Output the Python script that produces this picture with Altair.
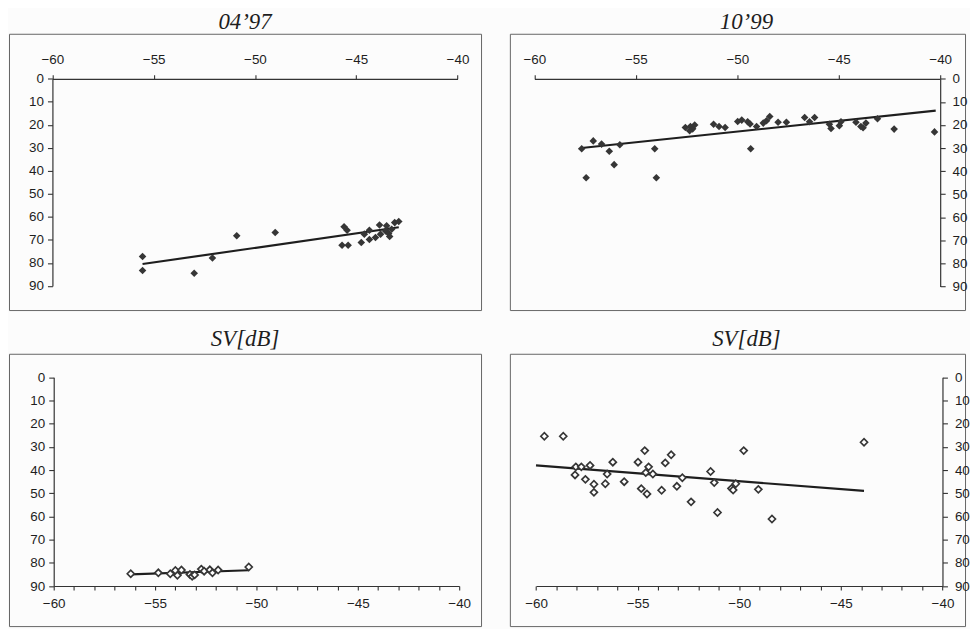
import altair as alt
import pandas as pd

# ---- data ----
# Panel 1: 04'97 (filled diamonds)
x1 = [-55.55, -55.55, -53.0, -52.1, -50.9, -49.0, -45.6, -45.45, -45.7, -45.4, -44.75, -44.6,
      -44.35, -44.35, -44.05, -43.85, -43.8, -43.55, -43.5, -43.4, -43.25, -43.1, -42.9, -43.35]
y1 = [77.2, 83.3, 84.5, 77.9, 68.2, 66.8, 64.3, 65.8, 72.3, 72.3, 71.1, 67.5,
      69.8, 65.8, 69.0, 63.5, 67.5, 66.1, 63.9, 67.2, 65.4, 62.5, 62.0, 68.5]
trend1_x = [-55.55, -42.9]
trend1_y = [80.5, 64.5]

# Panel 2: 10'99 (filled diamonds)
x2 = [-57.67, -57.45, -57.1, -56.69, -56.31, -56.07, -55.79, -54.07, -53.99, -52.56, -52.31, -52.2,
      -52.1, -52.35, -51.17, -50.9, -50.6, -49.98, -49.78, -49.49, -49.37, -49.34, -49.05, -48.72,
      -48.56, -48.4, -47.99, -47.58, -46.68, -46.44, -46.19, -45.46, -45.38, -44.97, -44.89, -44.15,
      -43.91, -43.66, -43.8, -43.09, -42.27, -40.28]
y2 = [30.3, 42.9, 26.9, 28.3, 31.4, 37.2, 28.6, 30.3, 42.9, 21.1, 20.7, 21.7,
      20.0, 22.5, 19.7, 20.7, 21.1, 18.5, 17.9, 18.6, 19.6, 30.3, 20.7, 19.2,
      18.2, 16.3, 18.8, 18.8, 16.8, 18.6, 16.8, 19.7, 21.5, 20.3, 18.6, 18.8,
      20.7, 19.2, 21.2, 17.3, 21.8, 23.0]
trend2_x = [-57.68, -40.22]
trend2_y = [30.0, 13.8]

# Panel 3: SV[dB] left (open diamonds)
x3 = [-56.2, -54.84, -54.25, -54.0, -53.9, -53.7, -53.28, -53.17, -53.05, -52.72, -52.58, -52.3,
      -52.17, -51.89, -50.38]
y3 = [84.7, 84.3, 84.7, 83.3, 85.4, 83.1, 85.0, 85.8, 85.2, 82.7, 83.6, 83.0,
      84.3, 83.1, 81.8]
trend3_x = [-56.2, -50.38]
trend3_y = [85.0, 83.2]

# Panel 4: SV[dB] right (open diamonds)
x4 = [-59.59, -58.66, -58.04, -57.77, -58.08, -57.57, -57.34, -57.15, -57.15, -56.59, -56.5, -56.22,
      -55.66, -54.98, -54.82, -54.65, -54.6, -54.54, -54.46, -54.25, -53.82, -53.64, -53.35, -53.07,
      -52.8, -52.37, -51.41, -51.23, -51.07, -50.38, -50.3, -50.17, -49.78, -49.06, -48.39, -43.86]
y4 = [25.4, 25.4, 38.6, 38.6, 42.1, 44.0, 38.0, 46.1, 49.6, 45.9, 41.7, 36.6,
      45.0, 36.6, 48.0, 31.6, 41.1, 50.3, 38.6, 41.7, 48.7, 36.9, 33.4, 47.0,
      43.3, 53.7, 40.6, 45.4, 58.3, 47.9, 48.6, 45.9, 31.6, 48.3, 61.1, 28.0]
trend4_x = [-60.0, -43.86]
trend4_y = [38.0, 49.0]

titles = ["04\u201997", "10\u201999", "SV[dB]", "SV[dB]"]
x_major = [-60, -55, -50, -45, -40]
x_minor = list(range(-60, -39))
y_ticks = [0, 10, 20, 30, 40, 50, 60, 70, 80, 90]

INK = "#1e1e1e"
AX = "#333333"
LABEL_FONT = "Liberation Sans"
LABEL_SIZE = 13.5


def panel(xs, ys, tx, ty, title, w, h, xr, yr, x_orient, x_off, y_orient, y_off,
          filled, minor, tdx, toff):
    pts = pd.DataFrame({"x": xs, "y": ys})
    tr = pd.DataFrame({"x": tx, "y": ty})
    xscale = alt.Scale(domain=[-60, -40], range=xr, nice=False, zero=False)
    yscale = alt.Scale(domain=[0, 90], range=yr, nice=False, zero=False)
    common = dict(labelFlush=False, labelOverlap=False, grid=False, title=None,
                  domainColor=AX, tickColor=AX, domainWidth=1.2, tickWidth=1.1,
                  labelColor=INK, labelFont=LABEL_FONT, labelFontSize=LABEL_SIZE)
    if minor:
        xaxis = alt.Axis(orient=x_orient, offset=x_off, values=x_minor,
                         labelExpr="datum.value % 5 == 0 ? datum.label : ''",
                         tickSize=4, labelPadding=7, **common)
    else:
        xaxis = alt.Axis(orient=x_orient, offset=x_off, values=x_major,
                         tickSize=4, labelPadding=8, **common)
    yaxis = alt.Axis(orient=y_orient, offset=y_off, values=y_ticks, tickSize=5,
                     labelPadding=4 if y_orient == "left" else 7, **common)
    if filled:
        pm = alt.Chart(pts).mark_point(shape="diamond", filled=True, color="#363636",
                                       size=58, opacity=1)
    else:
        pm = alt.Chart(pts).mark_point(shape="diamond", filled=False, stroke="#363636",
                                       fill="white", fillOpacity=1, strokeWidth=1.7,
                                       size=50, opacity=1)
    points = pm.encode(x=alt.X("x:Q", scale=xscale, axis=xaxis),
                       y=alt.Y("y:Q", scale=yscale, axis=yaxis))
    line = alt.Chart(tr).mark_line(color=INK, strokeWidth=2.2).encode(
        x=alt.X("x:Q", scale=xscale, axis=xaxis),
        y=alt.Y("y:Q", scale=yscale, axis=yaxis))
    return alt.layer(line, points).properties(
        width=w, height=h,
        title=alt.TitleParams(title, font="Liberation Serif", fontStyle="italic",
                              fontWeight="normal", fontSize=23, color=INK,
                              anchor="middle", frame="group", offset=toff, dx=tdx))


RW = 458  # right panel width (frame cut at the page edge in the reference)

p1 = panel(x1, y1, trend1_x, trend1_y, titles[0], 475, 278, [43.7, 451.3], [45.3, 253.7],
           "top", -45.3, "left", -43.7, True, False, 0, 0)
p2 = panel(x2, y2, trend2_x, trend2_y, titles[1], RW, 278, [24.7, 433.0], [45.3, 254.3],
           "top", -45.3, "right", -(RW - 433.0), True, False, 9, 0)
p3 = panel(x3, y3, trend3_x, trend3_y, titles[2], 475, 274, [45.0, 453.0], [23.7, 233.7],
           "bottom", -40.3, "left", -45.0, False, True, 0, 3)
p4 = panel(x4, y4, trend4_x, trend4_y, titles[3], RW, 274, [26.3, 435.3], [23.7, 233.7],
           "bottom", -40.3, "right", -(RW - 435.3), False, True, 9, 3)

top = alt.hconcat(p1, p2, spacing=27)
bottom = alt.hconcat(p3, p4, spacing=27)
chart = alt.vconcat(top, bottom, spacing=16).properties(
    padding=0, background="#fcfcfc"
).configure_view(stroke="#666666", strokeWidth=1)

chart.save("out.html", embed_options={"renderer": "svg", "actions": False})
